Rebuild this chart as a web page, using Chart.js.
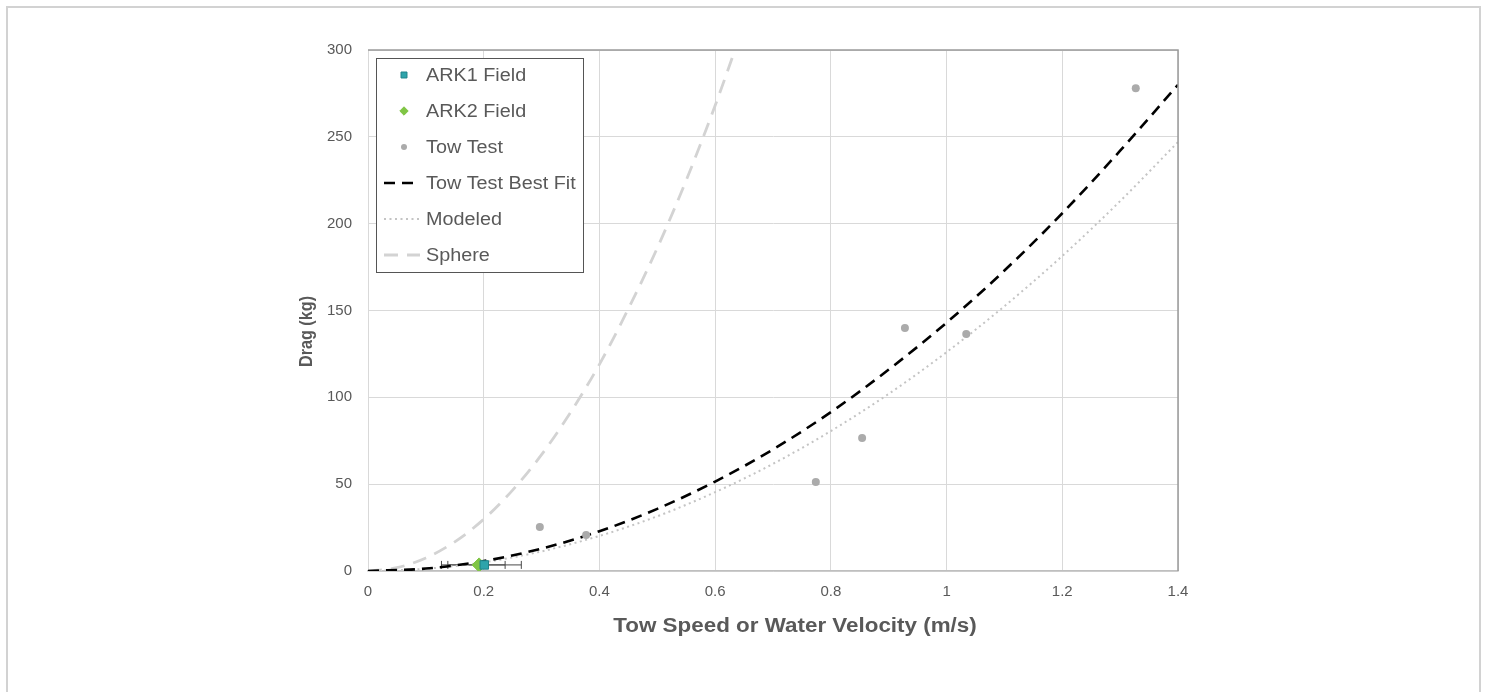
<!DOCTYPE html>
<html><head><meta charset="utf-8">
<script src="https://cdn.jsdelivr.net/npm/chart.js@4/dist/chart.umd.min.js"></script>
<style>
html,body{margin:0;padding:0;background:#fff;overflow:hidden}
#frame{position:absolute;left:6px;top:6px;width:1475px;height:720px;border:2px solid #d2d2d2;box-sizing:border-box}
#wrap{position:absolute;left:0;top:0;width:1488px;height:692px}
</style></head><body>
<div id="frame"></div>
<div id="wrap"><canvas id="c" width="1488" height="692"></canvas></div>
<script>
// ---- data ----
const towSpeed = [0.297, 0.377, 0.774, 0.854, 0.928, 1.034, 1.327];
const towDrag  = [25.3, 20.7, 51.2, 76.6, 139.9, 136.4, 278];

const ark1Speed = [0.201];
const ark1Drag  = [3.5];
const ark1Min   = [0.138];
const ark1Max   = [0.265];

const ark2Speed = [0.192];
const ark2Drag  = [3.5];
const ark2Min   = [0.127];
const ark2Max   = [0.237];

const curveSpeed   = [0, 0.1, 0.2, 0.3, 0.4, 0.5, 0.6, 0.7, 0.8, 0.9, 1.0, 1.1, 1.2, 1.3, 1.4];
const bestFitDrag  = [0, 1.4, 5.7, 12.9, 22.9, 35.8, 51.5, 70, 91.5, 116, 143, 173, 206, 242, 280];
const modeledDrag  = [0, 1.3, 5.0, 11.3, 20.2, 31.5, 45.4, 61.7, 80.6, 102, 126, 152.5, 181.4, 213, 247];

const sphereSpeed = [0, 0.05, 0.1, 0.15, 0.2, 0.25, 0.3, 0.35, 0.4, 0.45, 0.5, 0.55, 0.6, 0.65];
const sphereDrag  = [0, 1.9, 7.5, 16.8, 29.8, 46.6, 67, 91.3, 119, 151, 186, 225, 268, 315];

const xTicks = [0, 0.2, 0.4, 0.6, 0.8, 1, 1.2, 1.4];
const yTicks = [0, 50, 100, 150, 200, 250, 300];
const xTitle = 'Tow Speed or Water Velocity (m/s)';
const yTitle = 'Drag (kg)';

const pts = (xs, ys) => xs.map((x, i) => ({x: x, y: ys[i]}));
const FONT = '"Liberation Sans", Arial, Helvetica, sans-serif';
const TXT = '#595959';

const datasets = [
  {label: 'ARK1 Field', data: pts(ark1Speed, ark1Drag), errMin: ark1Min, errMax: ark1Max,
   pointStyle: 'rect', pointRadius: 6, backgroundColor: '#2ea4ab', borderColor: '#1d8289', borderWidth: 1, showLine: false},
  {label: 'ARK2 Field', data: pts(ark2Speed, ark2Drag), errMin: ark2Min, errMax: ark2Max,
   pointStyle: 'rectRot', pointRadius: 7, backgroundColor: '#80c545', borderColor: '#80c545', borderWidth: 1, showLine: false},
  {label: 'Tow Test', data: pts(towSpeed, towDrag),
   pointStyle: 'circle', pointRadius: 4, backgroundColor: '#ababab', borderColor: '#ababab', borderWidth: 0, showLine: false},
  {label: 'Tow Test Best Fit', data: pts(curveSpeed, bestFitDrag), showLine: true, pointRadius: 0,
   borderColor: '#000000', borderWidth: 2.6, borderDash: [11, 7], cubicInterpolationMode: 'monotone', fill: false},
  {label: 'Modeled', data: pts(curveSpeed, modeledDrag), showLine: true, pointRadius: 0,
   borderColor: '#c4c4c4', borderWidth: 2, borderDash: [2, 3.5], cubicInterpolationMode: 'monotone', fill: false},
  {label: 'Sphere', data: pts(sphereSpeed, sphereDrag), showLine: true, pointRadius: 0,
   borderColor: '#d3d3d3', borderWidth: 2.8, borderDash: [14, 9], cubicInterpolationMode: 'monotone', fill: false}
];

const errorBars = {
  id: 'errorBars',
  beforeDatasetsDraw(chart) {
    const ctx = chart.ctx, xs = chart.scales.x, ys = chart.scales.y;
    ctx.save();
    ctx.strokeStyle = '#4a4a4a';
    ctx.lineWidth = 1;
    chart.data.datasets.forEach(ds => {
      if (!ds.errMin) return;
      ds.data.forEach((p, i) => {
        const y = ys.getPixelForValue(p.y);
        const a = xs.getPixelForValue(ds.errMin[i]);
        const b = xs.getPixelForValue(ds.errMax[i]);
        ctx.beginPath();
        ctx.moveTo(a, y); ctx.lineTo(b, y);
        ctx.moveTo(a, y - 4); ctx.lineTo(a, y + 4);
        ctx.moveTo(b, y - 4); ctx.lineTo(b, y + 4);
        ctx.stroke();
      });
    });
    ctx.restore();
  }
};

const frameAndTitles = {
  id: 'frameAndTitles',
  afterDatasetsDraw(chart) {
    const ctx = chart.ctx, a = chart.chartArea;
    ctx.save();
    ctx.strokeStyle = '#9a9a9a';
    ctx.lineWidth = 1.5;
    ctx.beginPath();
    ctx.moveTo(a.left, a.top); ctx.lineTo(a.right, a.top); ctx.lineTo(a.right, a.bottom);
    ctx.stroke();
    ctx.fillStyle = TXT;
    ctx.textAlign = 'center';
    ctx.textBaseline = 'middle';
    ctx.save();
    ctx.translate((a.left + a.right) / 2 + 22, a.bottom + 55);
    ctx.scale(1.12, 1);
    ctx.font = 'bold 20px ' + FONT;
    ctx.fillText(xTitle, 0, 0);
    ctx.restore();
    ctx.save();
    ctx.translate(a.left - 61, (a.top + a.bottom) / 2 + 21);
    ctx.rotate(-Math.PI / 2);
    ctx.scale(0.9, 1.05);
    ctx.font = 'bold 18px ' + FONT;
    ctx.fillText(yTitle, 0, 0);
    ctx.restore();
    ctx.restore();
  }
};

const boxLegend = {
  id: 'boxLegend',
  afterDraw(chart) {
    const ctx = chart.ctx, a = chart.chartArea;
    const L = a.left + 8, T = a.top + 8, W = 207, H = 214;
    ctx.save();
    ctx.fillStyle = '#ffffff';
    ctx.fillRect(L, T, W, H);
    ctx.strokeStyle = '#555555';
    ctx.lineWidth = 1;
    ctx.strokeRect(L + 0.5, T + 0.5, W, H);
    ctx.textBaseline = 'middle';
    ctx.textAlign = 'left';
    chart.data.datasets.forEach((ds, i) => {
      const y = T + 17 + i * 36;
      const mx = L + 28;
      if (ds.showLine) {
        ctx.save();
        ctx.strokeStyle = ds.borderColor;
        ctx.lineWidth = ds.borderWidth;
        ctx.setLineDash(ds.borderDash);
        ctx.beginPath();
        ctx.moveTo(L + 8, y); ctx.lineTo(L + 44, y);
        ctx.stroke();
        ctx.restore();
      } else {
        ctx.save();
        ctx.fillStyle = ds.backgroundColor;
        ctx.strokeStyle = ds.borderColor;
        ctx.lineWidth = ds.borderWidth;
        Chart.helpers.drawPoint(ctx, {pointStyle: ds.pointStyle, radius: ds.pointStyle === 'circle' ? 3 : 4.2, borderWidth: ds.borderWidth}, mx, y);
        ctx.restore();
      }
      ctx.save();
      ctx.translate(L + 50, y + 1);
      ctx.scale(1.1, 1);
      ctx.font = '18px ' + FONT;
      ctx.fillStyle = TXT;
      ctx.fillText(ds.label, 0, 0);
      ctx.restore();
    });
    ctx.restore();
  }
};

new Chart(document.getElementById('c'), {
  type: 'scatter',
  data: {datasets: datasets},
  plugins: [errorBars, frameAndTitles, boxLegend],
  options: {
    responsive: false,
    animation: false,
    layout: {padding: {left: 0, top: 50, right: 310, bottom: 0}},
    plugins: {legend: {display: false}, tooltip: {enabled: false}},
    elements: {line: {borderCapStyle: 'butt'}},
    scales: {
      x: {
        type: 'linear', min: 0, max: 1.4,
        afterFit: s => { s.height = 121; },
        afterBuildTicks: s => { s.ticks = xTicks.map(v => ({value: v})); },
        grid: {color: '#d9d9d9', lineWidth: 1, drawTicks: false},
        border: {color: '#bfbfbf', width: 1.5},
        ticks: {color: TXT, font: {family: FONT, size: 15}, padding: 12, callback: v => String(v)}
      },
      y: {
        type: 'linear', min: 0, max: 300,
        afterFit: s => { s.width = 368; },
        afterBuildTicks: s => { s.ticks = yTicks.map(v => ({value: v})); },
        grid: {color: '#d9d9d9', lineWidth: 1, drawTicks: false},
        border: {color: '#d9d9d9', width: 1},
        ticks: {color: TXT, font: {family: FONT, size: 15}, padding: 16, callback: v => String(v)}
      }
    }
  }
});
</script>
</body></html>
